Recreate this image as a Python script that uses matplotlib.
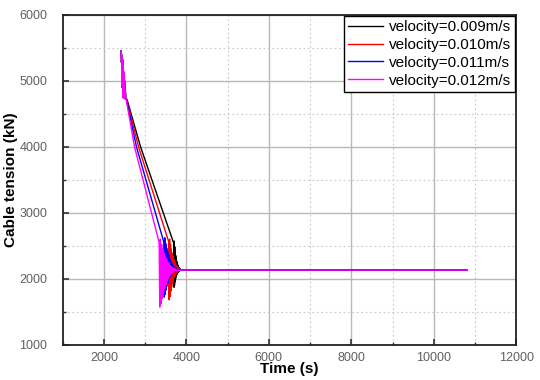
import matplotlib
matplotlib.use("Agg")
import matplotlib.pyplot as plt
from matplotlib.ticker import MultipleLocator

plt.rcParams['font.family'] = ['Liberation Sans', 'DejaVu Sans']

labels = ["velocity=0.009m/s", "velocity=0.010m/s", "velocity=0.011m/s", "velocity=0.012m/s"]
colors = ["#000000", "#ff0000", "#0000ff", "#ff00ff"]

# shared initial oscillating band (start of lowering)
band_t = [2420, 2428, 2436, 2444, 2452, 2460, 2468, 2476, 2484, 2492, 2500, 2510, 2520, 2530]
band_v = [5450, 5280, 5390, 4900, 5320, 4760, 5230, 4740, 5130, 4735, 5000, 4730, 4850, 4725]

# --- velocity = 0.009 m/s ---
ramp_t_009 = [2560, 2889]
ramp_v_009 = [4720, 4000]
osc_t_009 = [3695, 3701, 3707, 3713, 3719, 3725, 3731, 3737, 3743, 3749,
             3755, 3761, 3767, 3773, 3779, 3785, 3791, 3797, 3803, 3809,
             3815, 3821, 3827, 3833, 3839, 3845, 3851, 3857, 3863, 3869]
osc_v_009 = [2535, 1870, 2570, 1900, 2480, 1950, 2410, 1990, 2350, 2025,
             2300, 2050, 2265, 2070, 2235, 2085, 2210, 2098, 2190, 2108,
             2175, 2115, 2162, 2120, 2152, 2124, 2145, 2127, 2138, 2129]

# --- velocity = 0.010 m/s ---
ramp_t_010 = [2550, 2840]
ramp_v_010 = [4720, 4000]
osc_t_010 = [3574, 3584, 3594, 3604, 3614, 3624, 3634, 3644, 3654, 3664,
             3674, 3684, 3694, 3704, 3714, 3724, 3734, 3744, 3754, 3764,
             3774, 3784, 3794, 3804, 3814, 3824, 3834, 3844, 3854, 3864]
osc_v_010 = [2555, 1680, 2600, 1730, 2520, 1810, 2450, 1880, 2390, 1935,
             2340, 1980, 2300, 2015, 2265, 2045, 2235, 2070, 2205, 2090,
             2185, 2103, 2170, 2113, 2158, 2120, 2148, 2125, 2138, 2128]

# --- velocity = 0.011 m/s ---
ramp_t_011 = [2545, 2790]
ramp_v_011 = [4720, 4000]
osc_t_011 = [3453, 3465, 3477, 3489, 3501, 3513, 3525, 3537, 3549, 3561,
             3573, 3585, 3597, 3609, 3621, 3633, 3645, 3657, 3669, 3681,
             3693, 3705, 3717, 3729, 3741, 3753, 3765, 3777, 3789, 3801]
osc_v_011 = [2555, 1720, 2620, 1760, 2530, 1830, 2460, 1890, 2400, 1940,
             2350, 1985, 2305, 2020, 2265, 2050, 2235, 2075, 2205, 2095,
             2185, 2105, 2170, 2115, 2158, 2120, 2148, 2125, 2138, 2128]

# --- velocity = 0.012 m/s ---
ramp_t_012 = [2540, 2743]
ramp_v_012 = [4720, 4000]
osc_t_012 = [3340, 3355, 3370, 3385, 3400, 3415, 3430, 3445, 3460, 3475,
             3490, 3505, 3520, 3535, 3550, 3565, 3580, 3595, 3610, 3625,
             3640, 3655, 3670, 3685, 3700, 3715, 3730, 3745, 3760, 3775]
osc_v_012 = [2550, 1570, 2600, 1620, 2520, 1700, 2450, 1780, 2390, 1850,
             2340, 1910, 2300, 1960, 2260, 2000, 2230, 2040, 2200, 2070,
             2180, 2090, 2165, 2105, 2155, 2115, 2145, 2122, 2138, 2128]

# steady state after settling
steady_t = [3900, 10800]
steady_v = [2130, 2130]

series = [
    (ramp_t_009, ramp_v_009, osc_t_009, osc_v_009),
    (ramp_t_010, ramp_v_010, osc_t_010, osc_v_010),
    (ramp_t_011, ramp_v_011, osc_t_011, osc_v_011),
    (ramp_t_012, ramp_v_012, osc_t_012, osc_v_012),
]

fig = plt.figure(figsize=(5.4, 3.8), dpi=100)
ax = fig.add_axes([0.116, 0.093, 0.840, 0.868])

for (rt, rv, ot, ov), c, lab in zip(series, colors, labels):
    t = band_t + rt + ot + steady_t
    v = band_v + rv + ov + steady_v
    ax.plot(t, v, color=c, lw=1.0, label=lab)

ax.set_xlim(1000, 12000)
ax.set_ylim(1000, 6000)
ax.set_xticks([2000, 4000, 6000, 8000, 10000, 12000])
ax.xaxis.set_minor_locator(MultipleLocator(1000))
ax.set_yticks([1000, 2000, 3000, 4000, 5000, 6000])
ax.yaxis.set_minor_locator(MultipleLocator(500))

ax.grid(True, which='major', color='#b8b8b8', lw=1.0, ls='-')
ax.grid(True, which='minor', color='#c8c8c8', lw=0.8, ls=(0, (1.5, 2.5)))
ax.set_axisbelow(True)

ax.tick_params(which='both', direction='in', colors='#333333', labelcolor='#606060',
               labelsize=9, top=False, right=False)
ax.tick_params(axis='y', which='both', pad=11)
ax.tick_params(axis='x', which='both', pad=5)
ax.tick_params(which='major', length=4, width=1.2)
ax.tick_params(which='minor', length=2.5, width=1.0)
for s in ax.spines.values():
    s.set_linewidth(1.3)
    s.set_color('#222222')

ax.set_xlabel("Time (s)", fontsize=11, fontweight='bold', labelpad=-1)
ax.set_ylabel("Cable tension (kN)", fontsize=11, fontweight='bold', labelpad=1)

leg = ax.legend(loc='upper right', fontsize=11, frameon=True, fancybox=False,
                edgecolor='#000000', framealpha=1, borderaxespad=0.05,
                handlelength=2.3, handletextpad=0.35, labelspacing=0.25,
                borderpad=0.3)
leg.get_frame().set_linewidth(1.0)

fig.savefig("out.png", dpi=100)
